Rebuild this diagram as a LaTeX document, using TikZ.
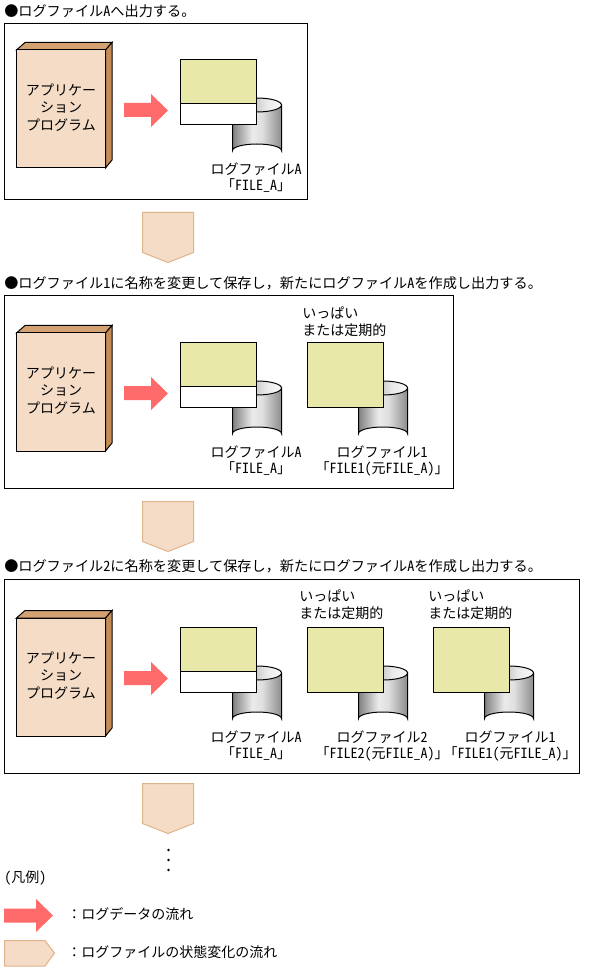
\documentclass[tikz,border=0pt]{standalone}
\usepackage{fontspec}
\setmainfont{Noto Sans CJK JP}[Scale=1]
\newfontfamily\hwfont{Noto Sans CJK JP}[RawFeature=+hwid]
\newcommand{\hw}[1]{{\hwfont #1}}
\definecolor{peach}{HTML}{F5DCC6}
\definecolor{peachline}{HTML}{E0B48A}
\definecolor{sidebrown}{HTML}{C68C55}
\definecolor{topbrown}{HTML}{D4A272}
\definecolor{logyellow}{HTML}{E8E8A8}
\definecolor{flowred}{HTML}{FF6B6B}
\pgfdeclarehorizontalshading{cylbody}{100bp}{color(0bp)=(black!50); color(25bp)=(black!50); color(45bp)=(black!8); color(55bp)=(black!12); color(75bp)=(black!45); color(100bp)=(black!45)}
\pgfdeclarehorizontalshading{cyltop}{100bp}{color(0bp)=(black!45); color(25bp)=(black!45); color(60bp)=(black!8); color(75bp)=(black!3); color(100bp)=(black!3)}
\tikzset{
  x=0.75pt,y=-0.75pt,
  txt/.style={inner sep=0pt,font=\fontsize{10.5pt}{12pt}\selectfont,text=black},
  lbl/.style={txt,anchor=center,align=center},
  head/.style={inner sep=0pt,font=\fontsize{10.62pt}{12pt}\selectfont,text=black,anchor=west},
  frame/.style={draw=black,line width=0.75pt,fill=white},
  line/.style={draw=black,line width=0.75pt},
}
\newcommand{\myappbox}[2]{%
  \begin{scope}[yshift={-0.75pt*(#2)}]
    \path[line,fill=topbrown] (16.5,50) -- (25,42.5) -- (112,42.5) -- (105.5,50) -- cycle;
    \path[line,fill=sidebrown] (105.5,50) -- (112,42.5) -- (112,160) -- (105.5,168) -- cycle;
    \path[line,fill=peach] (16.5,50) rectangle (105.5,168);
    \node[lbl] (#1a) at (61,90) {アプリケー};
    \node[lbl] (#1b) at (61,108) {ション};
    \node[lbl] (#1c) at (61,125) {プログラム};
    \path[fill=flowred] (124,103) -- (151,103) -- (151,94) -- (168,110.5) -- (151,127) -- (151,117) -- (124,117) -- cycle;
  \end{scope}}
\newcommand{\mycyl}[2]{%
  \begin{scope}[xshift={0.75pt*(#1)},yshift={-0.75pt*(#2)}]
    \path[shading=cylbody,draw=black,line width=0.75pt]
      (0,105) -- (0,150.5) arc[start angle=180,end angle=360,x radius=24.5,y radius=6.5] -- (49,105) -- cycle;
    \path[shading=cyltop,draw=black,line width=0.75pt] (24.5,105) ellipse[x radius=24.5,y radius=7];
  \end{scope}}
\newcommand{\myactive}[1]{%
  \path[line,fill=white] (180.5,#1) rectangle (256.5,#1+65);
  \path[line,fill=logyellow] (180.5,#1) rectangle (256.5,#1+44);}
\newcommand{\myfull}[2]{%
  \path[line,fill=logyellow] (#1,#2) rectangle (#1+76,#2+65);}
\newcommand{\dnpent}[1]{%
  \path[draw=peachline,fill=peach,line width=0.75pt] (142.5,#1) -- (193.5,#1) -- (193.5,#1+40) -- (168,#1+50) -- (142.5,#1+40) -- cycle;}
\begin{document}
\begin{tikzpicture}
\useasboundingbox (0,0) rectangle (598,969);
\fill[white] (0,0) rectangle (598,969);
% ---------- 1
\node[head] (h1) at (4,11) {●ログファイル\hw{A}へ出力する。};
\path[frame] (4.5,23.5) rectangle (307.5,199.5);
\myappbox{pa}{0}
\mycyl{232.5}{0}
\myactive{59.5}
\node[lbl] (l1) at (256,169) {ログファイル\hw{A}};
\node[lbl] (l1b) at (256,186) {\hw{「FILE\_A」}};
\dnpent{212.5}
% ---------- 2
\node[head] (h2) at (4,283) {●ログファイル\hw{1}に名称を変更して保存し，新たにログファイル\hw{A}を作成し出力する。};
\path[frame] (4.5,295.5) rectangle (453.5,488.5);
\myappbox{pb}{283}
\mycyl{232.5}{283}
\myactive{342.5}
\mycyl{358.5}{283}
\myfull{307.5}{342.5}
\node[txt,anchor=west] (t2a) at (302,313) {いっぱい};
\node[txt,anchor=west] (t2b) at (302,330) {または定期的};
\node[lbl] (l2) at (256,452) {ログファイル\hw{A}};
\node[lbl] (l2b) at (256,469) {\hw{「FILE\_A」}};
\node[lbl] (l3) at (382,452) {ログファイル\hw{1}};
\node[lbl] (l3b) at (382,469) {\hw{「FILE1(}元\hw{FILE\_A)」}};
\dnpent{501.5}
% ---------- 3
\node[head] (h3) at (4,566) {●ログファイル\hw{2}に名称を変更して保存し，新たにログファイル\hw{A}を作成し出力する。};
\path[frame] (4.5,579.5) rectangle (579.5,773.5);
\myappbox{pc}{568}
\mycyl{232.5}{568}
\myactive{627.5}
\mycyl{358.5}{568}
\myfull{307.5}{627.5}
\mycyl{484.5}{568}
\myfull{433.5}{627.5}
\node[txt,anchor=west] (t3a) at (299,596) {いっぱい};
\node[txt,anchor=west] (t3b) at (299,613) {または定期的};
\node[txt,anchor=west] (t3c) at (428,596) {いっぱい};
\node[txt,anchor=west] (t3d) at (428,613) {または定期的};
\node[lbl] (l4) at (256,737) {ログファイル\hw{A}};
\node[lbl] (l4b) at (256,754) {\hw{「FILE\_A」}};
\node[lbl] (l5) at (382,737) {ログファイル\hw{2}};
\node[lbl] (l5b) at (382,754) {\hw{「FILE2(}元\hw{FILE\_A)」}};
\node[lbl] (l6) at (510,737) {ログファイル\hw{1}};
\node[lbl] (l6b) at (510,754) {\hw{「FILE1(}元\hw{FILE\_A)」}};
\dnpent{783.5}
\foreach \yy in {850,860,870} \fill (168.5,\yy) circle[radius=1.3];
\node[txt,anchor=west] (lg) at (4,878) {\hw{(}凡例\hw{)}};
\path[fill=flowred] (4,908.5) -- (36,908.5) -- (36,899) -- (53,915.5) -- (36,932) -- (36,922.5) -- (4,922.5) -- cycle;
\node[txt,anchor=west] (lg1) at (67,914) {：ログデータの流れ};
\path[draw=peachline,fill=peach,line width=0.75pt] (4.5,940.5) -- (45,940.5) -- (54.5,953) -- (45,966) -- (4.5,966) -- cycle;
\node[txt,anchor=west] (lg2) at (67,952) {：ログファイルの状態変化の流れ};
\end{tikzpicture}
\end{document}
